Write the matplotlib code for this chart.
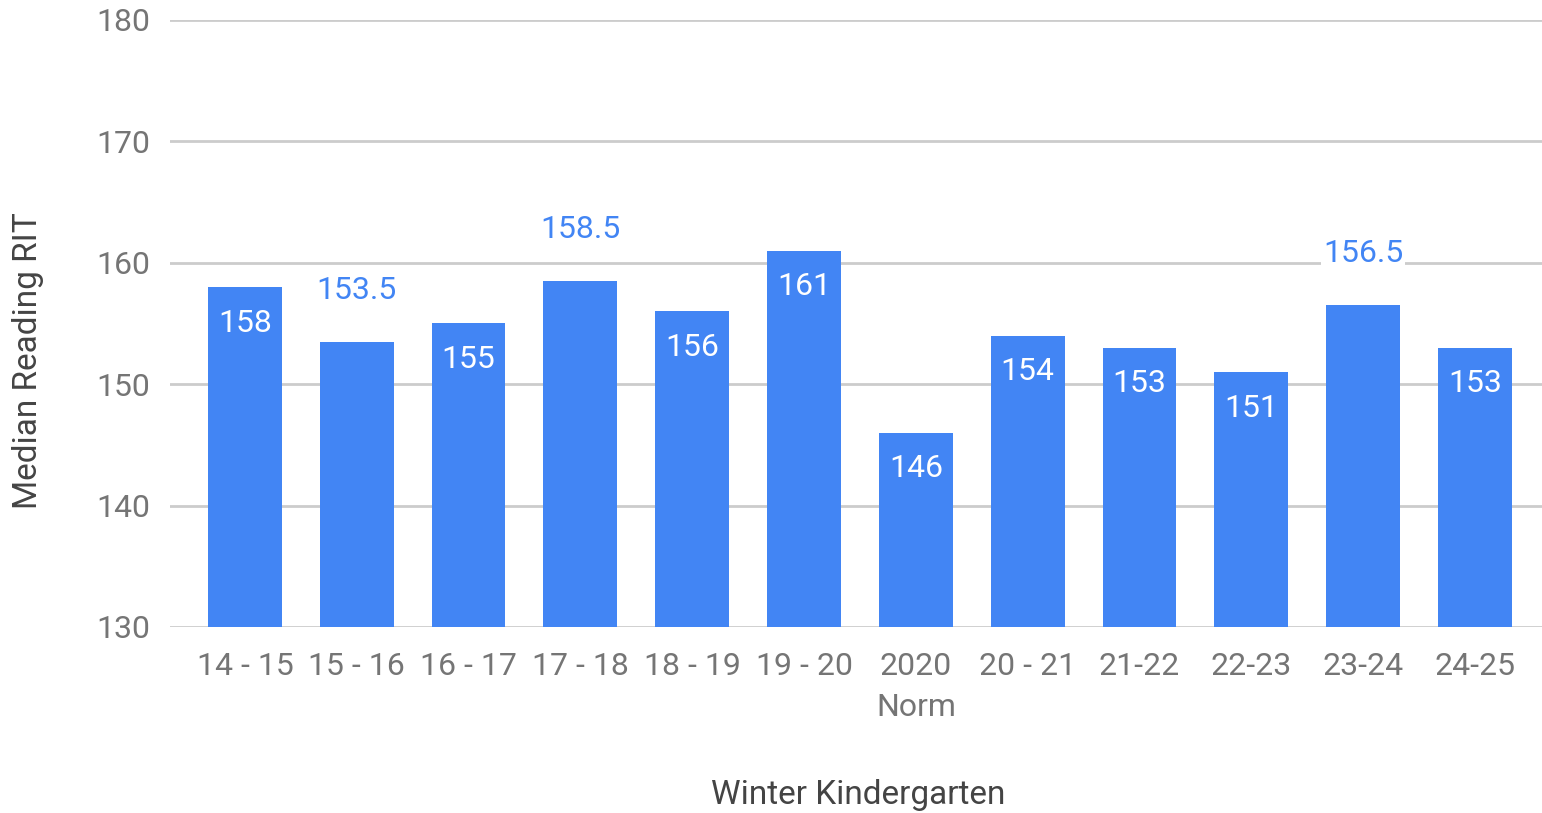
import matplotlib.pyplot as plt

# data
seasons = ["14 - 15", "15 - 16", "16 - 17", "17 - 18", "18 - 19", "19 - 20",
           "2020\nNorm", "20 - 21", "21-22", "22-23", "23-24", "24-25"]
median_rit = [158, 153.5, 155, 158.5, 156, 161, 146, 154, 153, 151, 156.5, 153]

blue = "#4285F4"
grey = "#757575"

plt.rcParams['font.family'] = ['Roboto', 'DejaVu Sans']

fig = plt.figure(figsize=(15.42, 8.13), dpi=100)
ax = fig.add_axes([0.1102, 0.2288, 0.8898, 0.7466])

x = range(len(seasons))
ax.bar(x, [v - 130 for v in median_rit], bottom=130, width=0.66, color=blue, zorder=2)

# whole numbers sit inside the bar, halves float above it
for i, v in enumerate(median_rit):
    if v == int(v):
        ax.annotate(str(int(v)), (i, v), xytext=(0, -26), textcoords="offset points",
                    ha="center", va="center", color="white", fontsize=23, zorder=3)
    else:
        ax.annotate(str(v), (i, v), xytext=(0, 37), textcoords="offset points",
                    ha="center", va="center", color=blue, fontsize=23, zorder=3,
                    bbox=dict(boxstyle="square,pad=0.05", fc="white", ec="none"))

ax.set_ylim(130, 180)
ax.set_yticks([130, 140, 150, 160, 170, 180])
ax.set_xlim(-0.671, 11.6)
ax.set_xticks(list(x))
ax.set_xticklabels(seasons)
ax.tick_params(axis="both", length=0, labelsize=23, labelcolor=grey)
ax.tick_params(axis="x", pad=18)
ax.tick_params(axis="y", pad=14)
for lab in ax.get_xticklabels():
    lab.set_linespacing(1.52)

ax.grid(axis="y", color="#cccccc", linewidth=2, zorder=0)
ax.set_axisbelow(True)
for s in ax.spines.values():
    s.set_visible(False)

fig.text(0.5565, 0.022, "Winter Kindergarten", ha="center", va="center", fontsize=24, color="#444444")
fig.text(0.018, 0.557, "Median Reading RIT", ha="center", va="center", rotation=90, fontsize=24, color="#444444")

plt.savefig("out.png", dpi=100)
